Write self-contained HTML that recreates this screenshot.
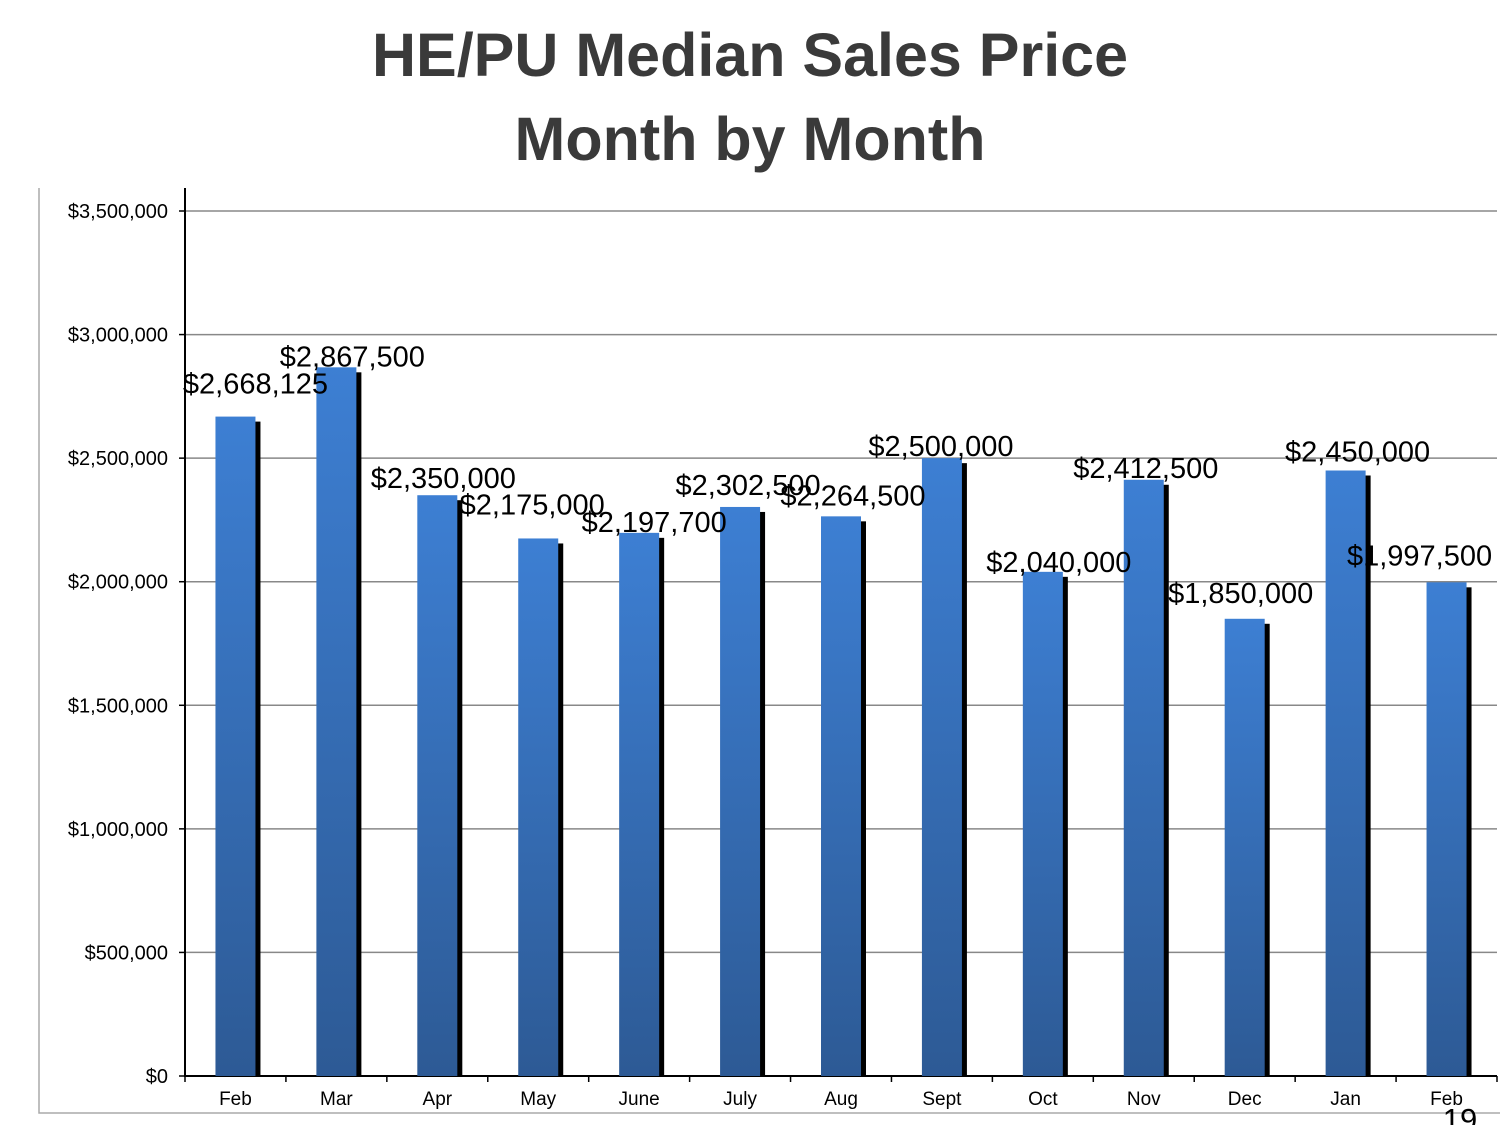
<!DOCTYPE html>
<html><head><meta charset="utf-8"><style>
body{margin:0;background:#fff;width:1500px;height:1125px;overflow:hidden;font-family:"Liberation Sans",sans-serif}
</style></head><body>
<svg id="chart" width="1500" height="1125" xmlns="http://www.w3.org/2000/svg">
<defs><linearGradient id="bg" x1="0" y1="0" x2="0" y2="1"><stop offset="0" stop-color="#3d7fd3"/><stop offset="1" stop-color="#2d5a95"/></linearGradient></defs>
<text x="750" y="76" text-anchor="middle" font-size="61" font-weight="bold" fill="#3a3a3a">HE/PU Median Sales Price</text>
<text x="750" y="160" text-anchor="middle" font-size="61" font-weight="bold" fill="#3a3a3a">Month by Month</text>
<path d="M39 188 V1113 H1500" fill="none" stroke="#aaa" stroke-width="1.5"/>
<g id="grid"></g><g id="bars"></g><g id="labels"></g>
<text x="1460" y="1130" text-anchor="middle" font-size="31" fill="#000">19</text>
</svg>
<script>
const categories=["Feb","Mar","Apr","May","June","July","Aug","Sept","Oct","Nov","Dec","Jan","Feb"];
const values=[2668125,2867500,2350000,2175000,2197700,2302500,2264500,2500000,2040000,2412500,1850000,2450000,1997500];
const valueLabels=["$2,668,125","$2,867,500","$2,350,000","$2,175,000","$2,197,700","$2,302,500","$2,264,500","$2,500,000","$2,040,000","$2,412,500","$1,850,000","$2,450,000","$1,997,500"];
const ticks=[0,500000,1000000,1500000,2000000,2500000,3000000,3500000];
const tickLabels=["$0","$500,000","$1,000,000","$1,500,000","$2,000,000","$2,500,000","$3,000,000","$3,500,000"];
const labelDx=[20,16,6,-6,15,8,12,-1,16,2,-4,12,-27];
const labelDy=[-23,-1,-7,-24,-1,-12,-11,-2,0,-2,-16,-9,-17];
const NS="http://www.w3.org/2000/svg";
const X0=185,X1=1497,Y0=1076,Y1=211,MAX=3500000;
const cw=(X1-X0)/categories.length;
const y=v=>Y0-(v/MAX)*(Y0-Y1);
const xc=i=>X0+cw*(i+0.5);
function mk(t,a,p){const e=document.createElementNS(NS,t);for(const k in a)e.setAttribute(k,a[k]);p.appendChild(e);return e;}
const grid=document.getElementById('grid'),bars=document.getElementById('bars'),labels=document.getElementById('labels');
ticks.forEach((t,i)=>{
 if(t>0){const l=mk('line',{x1:X0,x2:X1,y1:y(t),y2:y(t),stroke:'#888','stroke-width':1.5},grid);
 
 }
 const tk=mk('line',{x1:X0-6,x2:X0,y1:y(t),y2:y(t),stroke:'#000','stroke-width':1.5},grid);
 
 
 const tx=mk('text',{x:168,y:y(t)+7,'text-anchor':'end','font-size':20,fill:'#000'},grid);
 tx.textContent=tickLabels[i];
 
 
});
const ax=mk('path',{d:`M${X0} 188 V${Y0} H${X1}`,fill:'none',stroke:'#000','stroke-width':2},grid);


for(let i=0;i<=categories.length;i++){
 const t=mk('line',{x1:X0+cw*i,x2:X0+cw*i,y1:Y0,y2:Y0+6,stroke:'#000','stroke-width':1.5},grid);
 
 
}
const bw=40;
values.forEach((v,i)=>{
 const cx=xc(i),top=y(v);
 const s=mk('rect',{x:cx-bw/2+5,y:top+5,width:bw,height:Y0-top-5,fill:'#000'},bars);
 
 
 const b=mk('rect',{x:cx-bw/2,y:top,width:bw,height:Y0-top,fill:'url(#bg)'},bars);
 
 
 const lt=mk('text',{x:cx+labelDx[i],y:top+labelDy[i],'text-anchor':'middle','font-size':29,fill:'#000'},labels);
 lt.textContent=valueLabels[i];
 
 
 const xl=mk('text',{x:cx,y:1105,'text-anchor':'middle','font-size':19,fill:'#000'},labels);
 xl.textContent=categories[i];
 
 
});
</script>
</body></html>
